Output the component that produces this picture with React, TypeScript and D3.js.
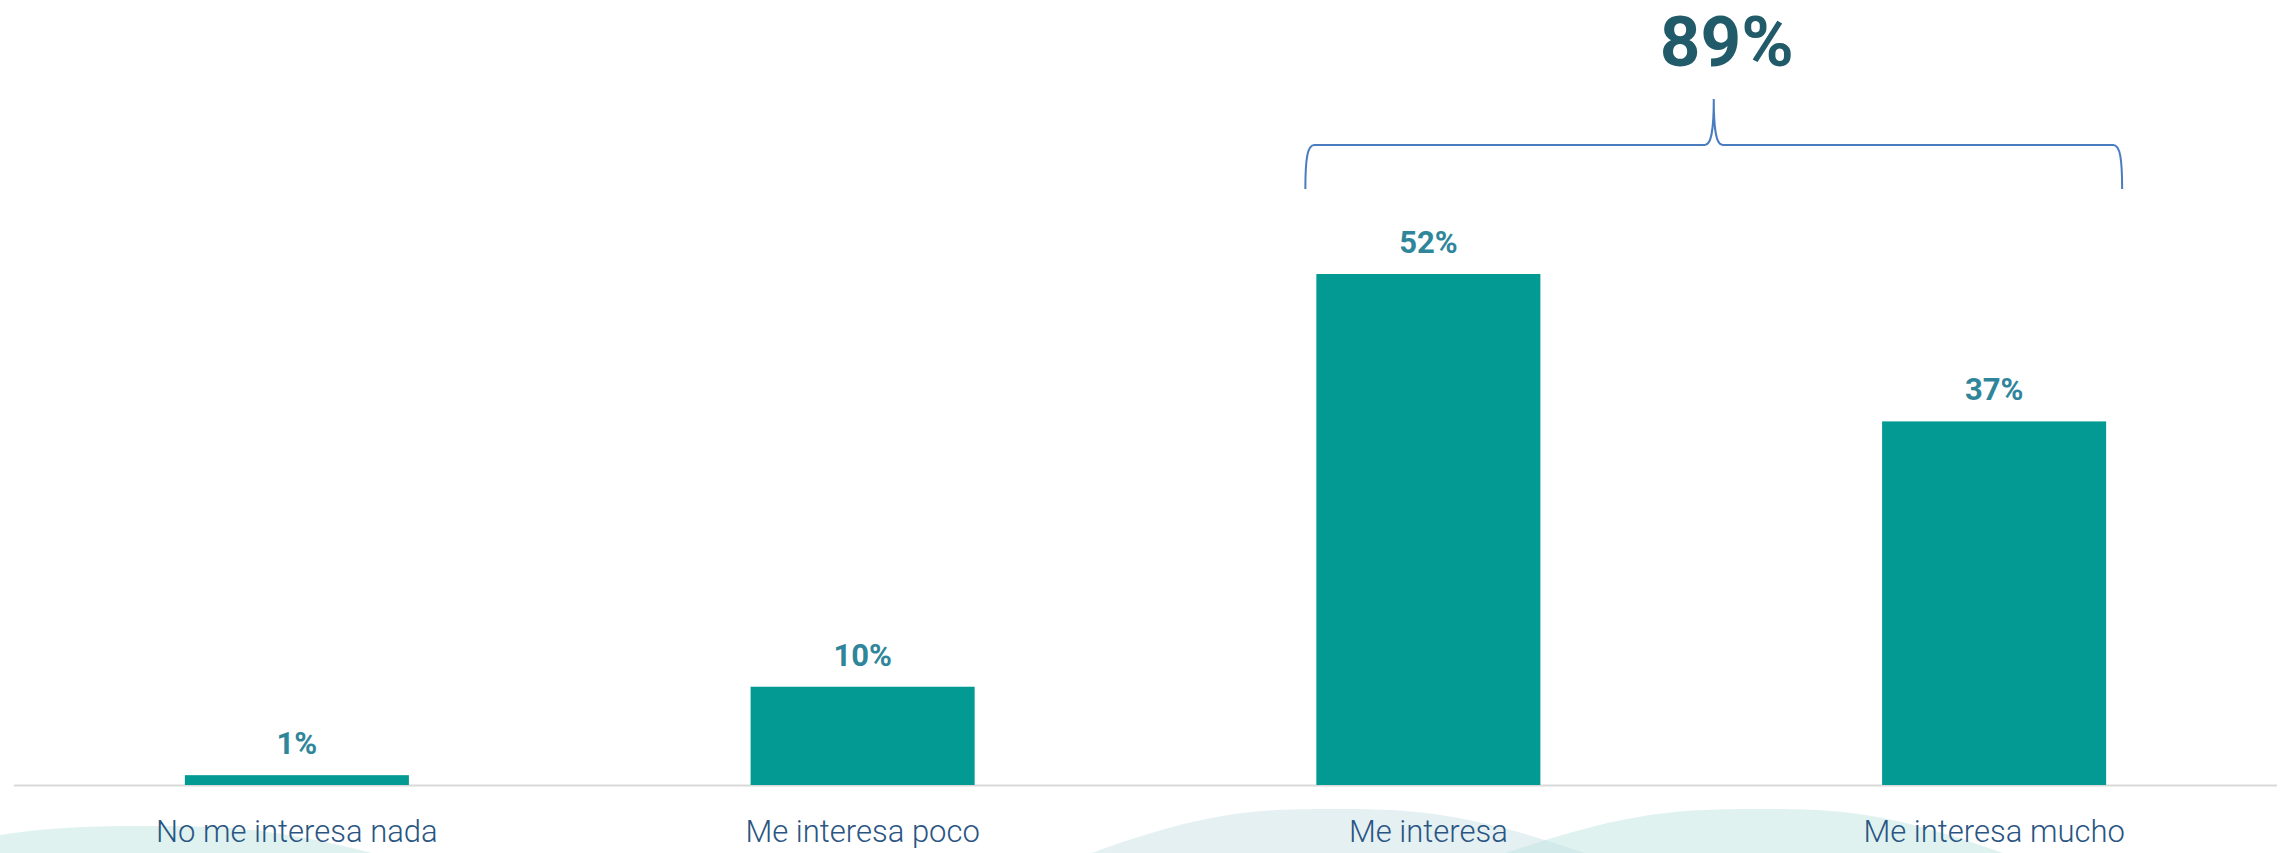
import React from "react";
import * as d3 from "d3";

const categories = ["No me interesa nada", "Me interesa poco", "Me interesa", "Me interesa mucho"];
const values = [1, 10, 52, 37];
const valueLabels = ["1%", "10%", "52%", "37%"];
const totalLabel = "89%";

const W = 2280;
const H = 853;

export default function App() {
  const x = d3
    .scaleBand<string>()
    .domain(categories)
    .range([14, 2277])
    .paddingInner(0.604)
    .paddingOuter(0.302);
  const y = d3.scaleLinear().domain([0, 52]).range([785, 274]);
  const bw = x.bandwidth();

  // brace over the last two categories
  const left = (x(categories[2]) as number) - 11;
  const right = (x(categories[3]) as number) + bw + 16;
  const mid = (left + right) / 2;
  const yb = 189, yh = 145, yp = 99;
  const brace = d3.path();
  brace.moveTo(left, yb);
  brace.bezierCurveTo(left, yb - 30, left + 2, yh, left + 9, yh);
  brace.lineTo(mid - 9, yh);
  brace.bezierCurveTo(mid - 3, yh, mid, yh - 12, mid, yp);
  brace.bezierCurveTo(mid, yh - 12, mid + 3, yh, mid + 9, yh);
  brace.lineTo(right - 9, yh);
  brace.bezierCurveTo(right - 2, yh, right, yb - 30, right, yb);

  const wave = (L: number, P: number, R: number, Y: number, B: number) => {
    const p = d3.path();
    p.moveTo(L, B);
    p.bezierCurveTo(L + 0.55 * (P - L), Y + 0.05 * (B - Y), P - 0.3 * (P - L), Y, P, Y);
    p.bezierCurveTo(P + 0.3 * (R - P), Y, R - 0.55 * (R - P), Y + 0.05 * (B - Y), R, B);
    p.closePath();
    return p.toString();
  };

  return (
    <svg
      width={W}
      height={H}
      style={{ position: "absolute", left: 0, top: 0, background: "#ffffff" }}
      fontFamily="Roboto, 'Noto Sans', sans-serif"
    >
      {/* decorative background waves */}
      <path d={wave(-200, 150, 470, 826, 880)} fill="#bfe5e1" fillOpacity={0.5} />
      <path d={wave(1020, 1332, 1660, 809, 880)} fill="#cfe3ea" fillOpacity={0.55} />
      <path d={wave(1430, 1760, 2075, 809, 880)} fill="#bfe5e1" fillOpacity={0.5} />

      {/* axis baseline */}
      <line x1={14} x2={2277} y1={785.5} y2={785.5} stroke="#d9d9d9" strokeWidth={2} />

      {/* bars */}
      {categories.map((c, i) => (
        <rect
          key={c}
          x={x(c)}
          y={y(values[i])}
          width={bw}
          height={y(0) - y(values[i])}
          fill="#039a94"
        />
      ))}

      {/* value labels */}
      {categories.map((c, i) => (
        <text
          key={c + "v"}
          x={(x(c) as number) + bw / 2}
          y={y(values[i]) - 21}
          textAnchor="middle"
          fontSize={31}
          fontWeight={700}
          fill="#2f869b"
        >
          {valueLabels[i]}
        </text>
      ))}

      {/* category labels */}
      {categories.map((c) => (
        <text
          key={c + "c"}
          x={(x(c) as number) + bw / 2}
          y={842}
          textAnchor="middle"
          fontSize={31}
          fontWeight={300}
          fill="#2a5582"
        >
          {c}
        </text>
      ))}

      {/* brace and total */}
      <path d={brace.toString()} fill="none" stroke="#4a7cc0" strokeWidth={2} />
      <text x={mid + 13} y={66} textAnchor="middle" fontSize={71} fontWeight={700} fill="#215a69">
        {totalLabel}
      </text>
    </svg>
  );
}
